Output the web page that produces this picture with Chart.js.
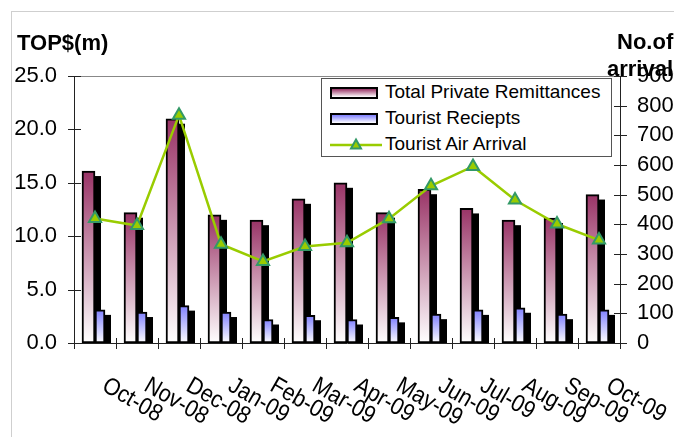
<!DOCTYPE html>
<html>
<head>
<meta charset="utf-8">
<script src="https://cdn.jsdelivr.net/npm/chart.js@4/dist/chart.umd.min.js"></script>
<style>
  html, body { margin: 0; padding: 0; background: #fff; overflow: hidden; }
  #wrap { position: relative; width: 674px; height: 437px; overflow: hidden; font-family: "Liberation Sans", Arial, sans-serif; color: #000; }
  #frame { position: absolute; left: 11px; top: 11px; width: 700px; height: 500px; border: 1px solid #cfcfcf; box-sizing: border-box; }
  canvas { position: absolute; left: 0; top: 0; }
  .t { position: absolute; white-space: nowrap; line-height: 22px; font-size: 22px; font-weight: bold; }
  #legend { position: absolute; left: 321px; top: 78px; width: 291px; height: 79px; border: 1px solid #555; box-sizing: border-box; background: #fff; }
  .lt { position: absolute; left: 385px; font-size: 19px; line-height: 19px; white-space: nowrap; }
  .sw { position: absolute; left: 330px; width: 48px; height: 12px; border: 2px solid #000; box-sizing: border-box; }
</style>
</head>
<body>
<div id="wrap">
  <div id="frame"></div>
  <canvas id="c" width="674" height="437"></canvas>
  <div class="t" style="left:17px; top:32px;">TOP$(m)</div>
  <div class="t" style="left:617px; top:31px;">No.of</div>
  <div class="t" style="left:607px; top:58px;">arrivals</div>
  <div id="legend"></div>
  <div class="sw" style="top:87px; background:linear-gradient(#993366,#ffffff);"></div>
  <div class="lt" style="top:82px;">Total Private Remittances</div>
  <div class="sw" style="top:113px; background:linear-gradient(#8080ff,#ffffff);"></div>
  <div class="lt" style="top:108px;">Tourist Reciepts</div>
  <svg style="position:absolute; left:328px; top:137px;" width="56" height="16">
    <line x1="2" y1="8" x2="54" y2="8" stroke="#99cc00" stroke-width="2.5"/>
    <polygon points="28,2.5 33,11.5 23,11.5" fill="#99cc00" stroke="#339966" stroke-width="2"/>
  </svg>
  <div class="lt" style="top:134px;">Tourist Air Arrival</div>
</div>
<script>
// Monthly figures, October 2008 to October 2009
const months = ['Oct-08', 'Nov-08', 'Dec-08', 'Jan-09', 'Feb-09', 'Mar-09', 'Apr-09',
                'May-09', 'Jun-09', 'Jul-09', 'Aug-09', 'Sep-09', 'Oct-09'];
// TOP$ millions
const remittances = [16.1, 12.2, 21.0, 12.0, 11.5, 13.5, 15.0, 12.2, 14.4, 12.6, 11.5, 11.7, 13.9];
const touristReceipts = [3.1, 2.9, 3.5, 2.9, 2.2, 2.6, 2.2, 2.4, 2.7, 3.1, 3.3, 2.7, 3.1];
// number of arrivals
const airArrivals = [420, 396, 768, 333, 275, 325, 338, 419, 530, 595, 482, 401, 347];

const FONT = '"Liberation Sans", Arial, sans-serif';

// vertical fade from the series colour at the bar top to white at the base
function barGradient(topColor) {
  return (ctx) => {
    const chart = ctx.chart;
    if (!chart.chartArea || ctx.type !== 'data') return topColor;
    const y = chart.scales.y;
    const yTop = y.getPixelForValue(ctx.raw);
    const yBase = y.getPixelForValue(0);
    const g = chart.ctx.createLinearGradient(0, yTop, 0, yBase);
    g.addColorStop(0, topColor);
    g.addColorStop(1, '#ffffff');
    return g;
  };
}

// solid black drop shadows, painted under every bar before the bars themselves
const barShadow = {
  id: 'barShadow',
  beforeDatasetsDraw(chart) {
    const ctx = chart.ctx;
    const a = chart.chartArea;
    ctx.save();
    ctx.beginPath();
    ctx.rect(a.left, a.top, a.right - a.left, a.bottom - a.top);
    ctx.clip();
    ctx.fillStyle = '#000';
    chart.getSortedVisibleDatasetMetas().forEach(meta => {
      if (meta.type !== 'bar') return;
      meta.data.forEach(el => {
        const p = el.getProps(['x', 'y', 'base', 'width'], true);
        ctx.fillRect(p.x - p.width / 2 + 6, p.y + 5, p.width, p.base - p.y);
      });
    });
    ctx.restore();
  }
};

// plot frame, axis lines with crossing tick marks, slanted month labels
const axesDecor = {
  id: 'axesDecor',
  afterDraw(chart) {
    const ctx = chart.ctx;
    const a = chart.chartArea;
    const xs = chart.scales.x, yl = chart.scales.y, yr = chart.scales.y1;
    ctx.save();
    ctx.lineWidth = 1;
    ctx.strokeStyle = '#888';
    ctx.beginPath();
    ctx.moveTo(a.left, a.top + 0.5);
    ctx.lineTo(a.right, a.top + 0.5);
    ctx.stroke();

    ctx.strokeStyle = '#222';
    ctx.beginPath();
    ctx.moveTo(a.left + 0.5, a.top);
    ctx.lineTo(a.left + 0.5, a.bottom + 0.5);
    ctx.moveTo(a.right + 0.5, a.top);
    ctx.lineTo(a.right + 0.5, a.bottom + 0.5);
    ctx.moveTo(a.left, a.bottom + 0.5);
    ctx.lineTo(a.right + 1, a.bottom + 0.5);
    yl.ticks.forEach(t => {
      const p = Math.round(yl.getPixelForValue(t.value)) + 0.5;
      ctx.moveTo(a.left - 6, p);
      ctx.lineTo(a.left + 7, p);
    });
    yr.ticks.forEach(t => {
      const p = Math.round(yr.getPixelForValue(t.value)) + 0.5;
      ctx.moveTo(a.right - 6, p);
      ctx.lineTo(a.right + 7, p);
    });
    const n = months.length;
    for (let i = 0; i <= n; i++) {
      const p = Math.round(xs.getPixelForValue(i - 0.5)) + 0.5;
      ctx.moveTo(p, a.bottom - 5);
      ctx.lineTo(p, a.bottom + 6);
    }
    ctx.stroke();

    // month labels: narrow lettering, turned 30 degrees clockwise
    ctx.fillStyle = '#000';
    ctx.font = '24px ' + FONT;
    ctx.textAlign = 'left';
    ctx.textBaseline = 'middle';
    months.forEach((lab, i) => {
      const cx = xs.getPixelForValue(i);
      ctx.save();
      ctx.translate(cx + 9, 384);
      ctx.rotate(Math.PI / 6);
      ctx.scale(0.9, 1);
      ctx.fillText(lab, 0, 0);
      ctx.restore();
    });
    ctx.restore();
  }
};

new Chart(document.getElementById('c'), {
  data: {
    labels: months,
    datasets: [
      {
        type: 'line',
        label: 'Tourist Air Arrival',
        data: airArrivals,
        yAxisID: 'y1',
        order: 0,
        borderColor: '#99cc00',
        borderWidth: 2.5,
        tension: 0,
        pointStyle: 'triangle',
        pointRadius: 7,
        pointBackgroundColor: '#99cc00',
        pointBorderColor: '#339966',
        pointBorderWidth: 2
      },
      {
        type: 'bar',
        label: 'Total Private Remittances',
        data: remittances,
        yAxisID: 'y',
        order: 1,
        barThickness: 13,
        backgroundColor: barGradient('#993366'),
        borderColor: '#000',
        borderWidth: 2,
        borderSkipped: false
      },
      {
        type: 'bar',
        label: 'Tourist Reciepts',
        data: touristReceipts,
        yAxisID: 'y',
        order: 1,
        barThickness: 10,
        backgroundColor: barGradient('#8080ff'),
        borderColor: '#000',
        borderWidth: 2,
        borderSkipped: false
      }
    ]
  },
  options: {
    responsive: false,
    animation: false,
    devicePixelRatio: 1,
    layout: { padding: { top: 76, left: 0, right: 0, bottom: 0 } },
    plugins: { legend: { display: false }, tooltip: { enabled: false } },
    scales: {
      x: {
        type: 'category',
        offset: true,
        grid: { display: false, drawTicks: false },
        border: { display: false },
        ticks: { display: false },
        afterFit(s) { s.height = 94; }
      },
      y: {
        position: 'left',
        min: 0, max: 25,
        grid: { display: false, drawTicks: false, tickLength: 0 },
        border: { display: false },
        ticks: {
          stepSize: 5,
          padding: 17,
          color: '#000',
          font: { family: FONT, size: 22 },
          callback: v => Number(v).toFixed(1)
        },
        afterFit(s) { s.width = 74; }
      },
      y1: {
        position: 'right',
        min: 0, max: 900,
        grid: { display: false, drawTicks: false, tickLength: 0 },
        border: { display: false },
        ticks: {
          stepSize: 100,
          padding: 17,
          color: '#000',
          font: { family: FONT, size: 22 }
        },
        afterFit(s) { s.width = 54; }
      }
    }
  },
  plugins: [barShadow, axesDecor]
});
</script>
</body>
</html>
